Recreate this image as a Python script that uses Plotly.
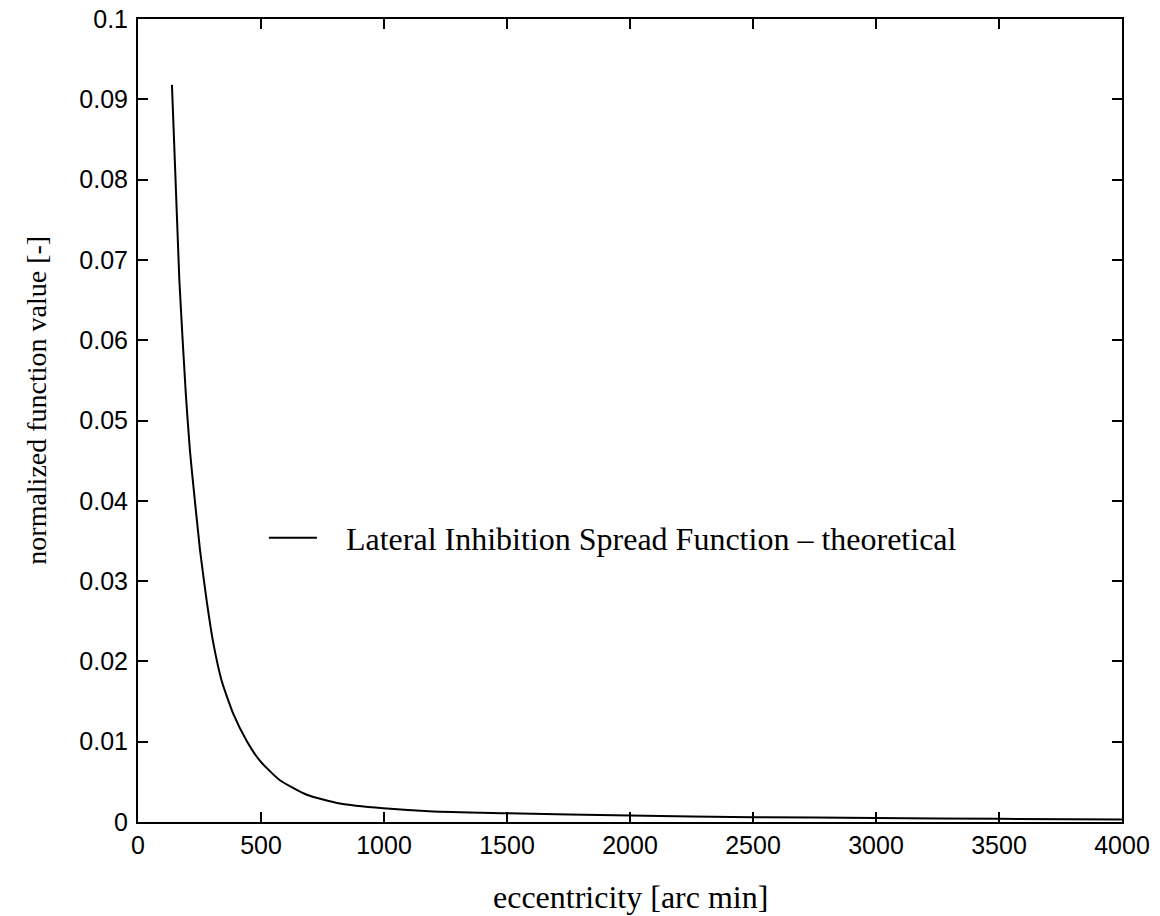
import plotly.graph_objects as go

ecc = [138, 168, 195, 211, 222, 252, 279, 306, 340, 387, 442, 496, 577, 686, 821, 997, 1200, 1500, 2000, 2500, 3000, 3500, 4000]
val = [0.0918, 0.0675, 0.0530, 0.0463, 0.0428, 0.0339, 0.0276, 0.0223, 0.0176, 0.0135, 0.0101, 0.0076, 0.0052, 0.0034, 0.0023, 0.0017, 0.0013, 0.0011, 0.0008, 0.0006, 0.0005, 0.0004, 0.0003]

xticks = [0, 500, 1000, 1500, 2000, 2500, 3000, 3500, 4000]
yticks = [0, 0.01, 0.02, 0.03, 0.04, 0.05, 0.06, 0.07, 0.08, 0.09, 0.1]
ytick_text = ["0", "0.01", "0.02", "0.03", "0.04", "0.05", "0.06", "0.07", "0.08", "0.09", "0.1"]

legend_name = "Lateral Inhibition Spread Function \u2013 theoretical"
x_title = "eccentricity [arc min]"
y_title = "normalized function value [-]"

serif = "Liberation Serif, Times New Roman, serif"
sans = "Liberation Sans, Arial, sans-serif"

fig = go.Figure()
fig.add_trace(go.Scatter(
    x=ecc, y=val, mode="lines",
    line=dict(color="black", width=2, shape="spline", smoothing=0.5),
    name="\u00a0\u00a0\u00a0" + legend_name,
))

axis_common = dict(
    showline=True, linecolor="black", linewidth=2, mirror="ticks",
    ticks="inside", ticklen=10, tickwidth=1.5, tickcolor="black",
    showgrid=False, zeroline=False, automargin=False,
    tickfont=dict(family=sans, size=25, color="black"),
)

fig.update_layout(
    width=1160, height=916,
    margin=dict(l=138, r=38, t=19, b=94, autoexpand=False),
    paper_bgcolor="white", plot_bgcolor="white",
    showlegend=True,
    legend=dict(
        x=0.128, y=0.3537, xanchor="left", yanchor="middle",
        bgcolor="rgba(0,0,0,0)", borderwidth=0,
        font=dict(family=serif, size=32, color="black"),
        itemwidth=48,
    ),
    xaxis=dict(range=[0, 4000], tickvals=xticks, ticktext=[str(t) for t in xticks], **axis_common),
    yaxis=dict(range=[0, 0.1], tickvals=yticks, ticktext=ytick_text, ticklabelstandoff=3, **axis_common),
    annotations=[
        dict(text=x_title, xref="paper", yref="paper", x=0.5, y=-0.0934,
             xanchor="center", yanchor="middle", showarrow=False,
             font=dict(family=serif, size=32, color="black")),
        dict(text=y_title, xref="paper", yref="paper", x=-0.104, y=0.5255,
             xanchor="center", yanchor="middle", showarrow=False, textangle=-90,
             font=dict(family=serif, size=28, color="black")),
    ],
)

fig.write_html(
    "out.html",
    config={"displayModeBar": False},
    post_script="document.body.style.margin='0';document.body.style.overflow='hidden';",
)
